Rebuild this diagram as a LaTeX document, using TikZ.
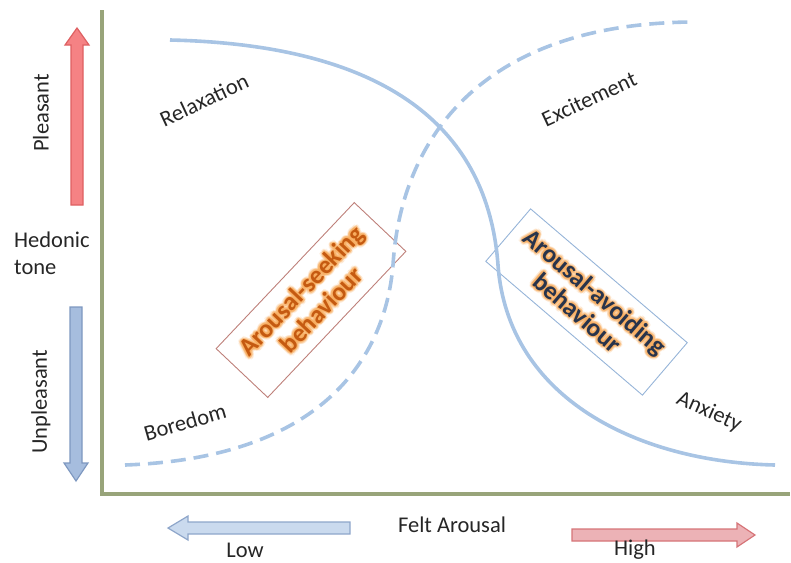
\documentclass[tikz,border=0pt]{standalone}
\usepackage{fontspec}
\setmainfont{Carlito}
\usetikzlibrary{calc}

\definecolor{axisc}{RGB}{152,164,122}
\definecolor{curvec}{RGB}{168,196,228}
\definecolor{redfill}{RGB}{245,130,132}
\definecolor{redline}{RGB}{222,96,98}
\definecolor{bluefill}{RGB}{166,189,222}
\definecolor{blueline}{RGB}{126,152,192}
\definecolor{lowfill}{RGB}{202,218,238}
\definecolor{lowline}{RGB}{142,166,202}
\definecolor{highfill}{RGB}{236,178,182}
\definecolor{highline}{RGB}{214,116,120}
\definecolor{seekbox}{RGB}{190,128,122}
\definecolor{avoidbox}{RGB}{150,180,216}
\definecolor{seektext}{RGB}{197,90,17}
\definecolor{avoidtext}{RGB}{40,52,76}
\definecolor{glowc}{RGB}{247,170,90}

% text drawn over a soft orange halo
\newcommand\glowlabel[5]{%
  \foreach \g in {0,30,...,330}{
    \node[bigtxt, text=glowc, opacity=0.16, rotate=#3] (#1-o\g) at ($(#2)+(\g:3pt)$) {#5};
    \node[bigtxt, text=glowc, opacity=0.3, rotate=#3] (#1-i\g) at ($(#2)+(\g:1.6pt)$) {#5};
  }
  \node[bigtxt, text=#4, rotate=#3] (#1) at (#2) {#5};
}

\begin{document}
\begin{tikzpicture}[x=1pt, y=-1pt,
  lbl/.style={font=\fontsize{22.5}{27}\selectfont, inner sep=0pt, text=black!85},
  bigtxt/.style={font=\fontsize{25.5}{27.5}\selectfont\bfseries, inner sep=0pt, align=center},
  axisline/.style={draw=axisc, line width=4pt},
  curve/.style={draw=curvec, line width=3.6pt},
  fatarrow/.style={line width=1.2pt, line join=miter},
  rotbox/.style={draw, line width=0.9pt, inner sep=0pt}]
\useasboundingbox (0,0) rectangle (791,562);

% axes
\draw[axisline] (102,10) -- (102,494) -- (790,494);

% boxes
\node[rotbox, draw=seekbox, minimum width=201pt, minimum height=71pt, rotate=46.6] (seek) at (311,300) {};
\node[rotbox, draw=avoidbox, minimum width=206pt, minimum height=69pt, rotate=-40.5] (avoid) at (586.5,302) {};

% curves
\draw[curve] (170,40) .. controls (390,45) and (488,130) .. (498,265)
             .. controls (508,400) and (640,462) .. (775,465);
\draw[curve, dash pattern=on 15pt off 8pt] (125,465) .. controls (320,458) and (385,360) .. (393,265)
             .. controls (400,150) and (470,25) .. (690,22);

% hedonic tone arrows
\draw[fatarrow, draw=redline, fill=redfill]
  (71,205) -- (71,45) -- (65,45) -- (77,28) -- (89,45) -- (83,45) -- (83,205) -- cycle;
\draw[fatarrow, draw=blueline, fill=bluefill]
  (70,307) -- (70,463) -- (64,463) -- (76,481) -- (88,463) -- (82,463) -- (82,307) -- cycle;

% felt arousal arrows
\draw[fatarrow, draw=lowline, fill=lowfill]
  (350,522) -- (188,522) -- (188,516) -- (168,528) -- (188,540) -- (188,534) -- (350,534) -- cycle;
\draw[fatarrow, draw=highline, fill=highfill]
  (572,529) -- (737,529) -- (737,523) -- (755,535) -- (737,547) -- (737,541) -- (572,541) -- cycle;

% axis labels
\node[lbl, rotate=90] (pleasant) at (41,113) {Pleasant};
\node[lbl, rotate=90] (unpleasant) at (41,402) {Unpleasant};
\node[lbl, anchor=west, align=left] (hedonic) at (14,253) {Hedonic\\tone};
\node[lbl] (felt) at (452,525) {Felt Arousal};
\node[lbl] (low) at (245,550) {Low};
\node[lbl] (high) at (635,550) {High};

% region labels
\node[lbl, rotate=25] (relax) at (204,100) {Relaxation};
\node[lbl, rotate=25] (excite) at (589,99) {Excitement};
\node[lbl, rotate=16] (bored) at (185,422) {Boredom};
\node[lbl, rotate=-24] (anx) at (709,412) {Anxiety};

% behaviour labels
\glowlabel{seektxt}{311,300}{46.6}{seektext}{Arousal-seeking\\behaviour}
\glowlabel{avoidtxt}{586.5,302}{-40.5}{avoidtext}{Arousal-avoiding\\behaviour}
\end{tikzpicture}
\end{document}
